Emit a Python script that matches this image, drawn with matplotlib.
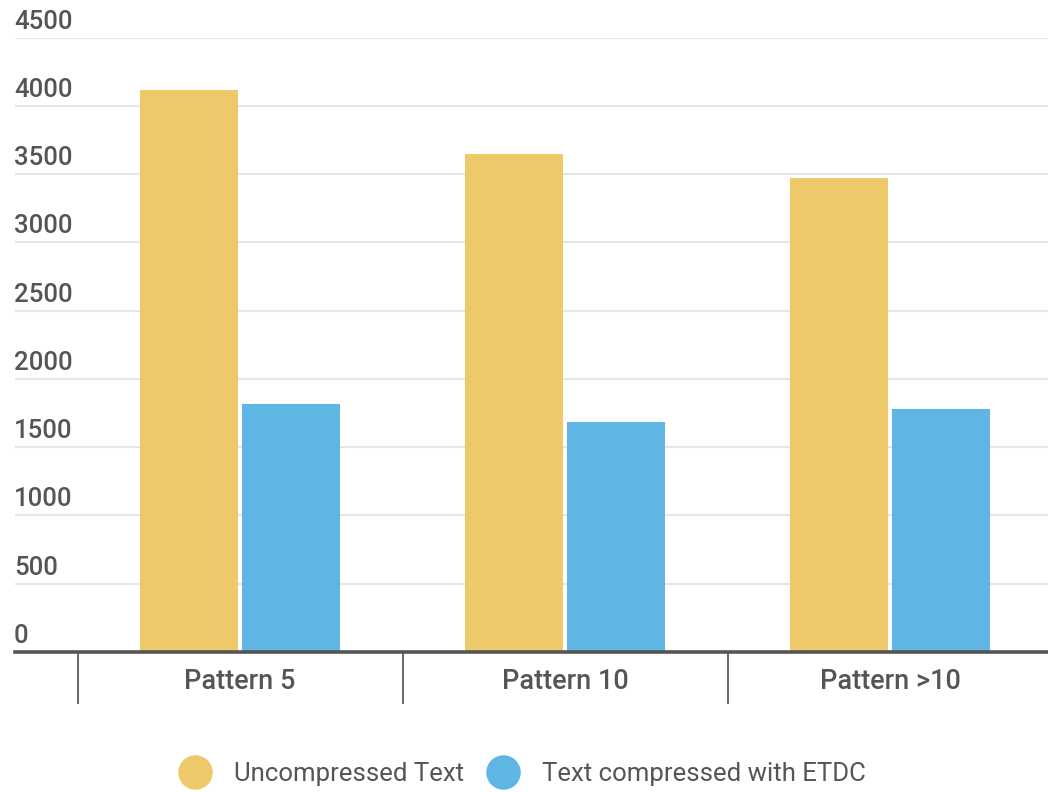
import matplotlib
matplotlib.use("Agg")
import matplotlib.pyplot as plt
import matplotlib.transforms as mtransforms
from matplotlib.lines import Line2D
import numpy as np

# Data
categories = ["Pattern 5", "Pattern 10", "Pattern >10"]
uncompressed = [4120, 3645, 3470]
compressed_etdc = [1820, 1685, 1780]
series_names = ["Uncompressed Text", "Text compressed with ETDC"]
y_ticks = [0, 500, 1000, 1500, 2000, 2500, 3000, 3500, 4000, 4500]

YELLOW = "#EDC96A"
BLUE = "#5FB5E4"
TEXT = "#555555"

plt.rcParams["font.family"] = ["Roboto", "DejaVu Sans"]

W, H, DPI = 1048, 792, 100
fig = plt.figure(figsize=(W / DPI, H / DPI), dpi=DPI)

# axes box in pixels: left 15, right 1048, bottom 652, top 37.7
left, right, bottom, top = 15, 1048, 652, 37.7
ax = fig.add_axes([left / W, 1 - bottom / H, (right - left) / W, (bottom - top) / H])

x = np.arange(len(categories))
bar_w = 0.30
off = 0.157
ax.bar(x - off, uncompressed, width=bar_w, color=YELLOW, zorder=2)
ax.bar(x + off, compressed_etdc, width=bar_w, color=BLUE, zorder=2)

ax.set_xlim(-225 / 325, 808 / 325)
ax.set_ylim(0, 4500)

# y axis: labels sit above their gridlines, flush left
ax.set_yticks(y_ticks, [str(v) for v in y_ticks])
ax.tick_params(axis="y", length=0, pad=0, labelsize=18.5, labelcolor=TEXT)
shift = mtransforms.ScaledTranslation(-1 / DPI, 9 / DPI, fig.dpi_scale_trans)
for lbl in ax.get_yticklabels():
    lbl.set_horizontalalignment("left")
    lbl.set_verticalalignment("baseline")
    lbl.set_fontweight("medium")
    lbl.set_transform(lbl.get_transform() + shift)
ax.yaxis.grid(True, color="#e6e6e6", linewidth=1.5, zorder=0)
ax.set_axisbelow(True)

# x axis: category labels plus separators between groups
ax.set_xticks(x, categories)
ax.set_xticks([-0.5, 0.5, 1.5], minor=True)
ax.tick_params(axis="x", which="major", length=0, pad=11.5, labelsize=19.5, labelcolor=TEXT)
ax.tick_params(axis="x", which="minor", length=52 * 0.72, width=1.4, color="#666666", direction="out")
for lbl in ax.get_xticklabels():
    lbl.set_fontweight("medium")

for s in ["top", "right", "left"]:
    ax.spines[s].set_visible(False)
ax.spines["bottom"].set_color("#555555")
ax.spines["bottom"].set_linewidth(2.6)
ax.spines["bottom"].set_zorder(3)

handles = [
    Line2D([], [], marker="o", linestyle="none", markersize=23.8,
           markerfacecolor=c, markeredgecolor=c)
    for c in (YELLOW, BLUE)
]
fig.legend(handles, series_names, loc="center", bbox_to_anchor=(0.5, 1 - 774 / H),
           ncol=2, frameon=False, fontsize=18.5, labelcolor=TEXT,
           handlelength=1.0, handletextpad=1.02, columnspacing=1.0,
           borderpad=0, borderaxespad=0)

fig.savefig("out.png", dpi=DPI)
